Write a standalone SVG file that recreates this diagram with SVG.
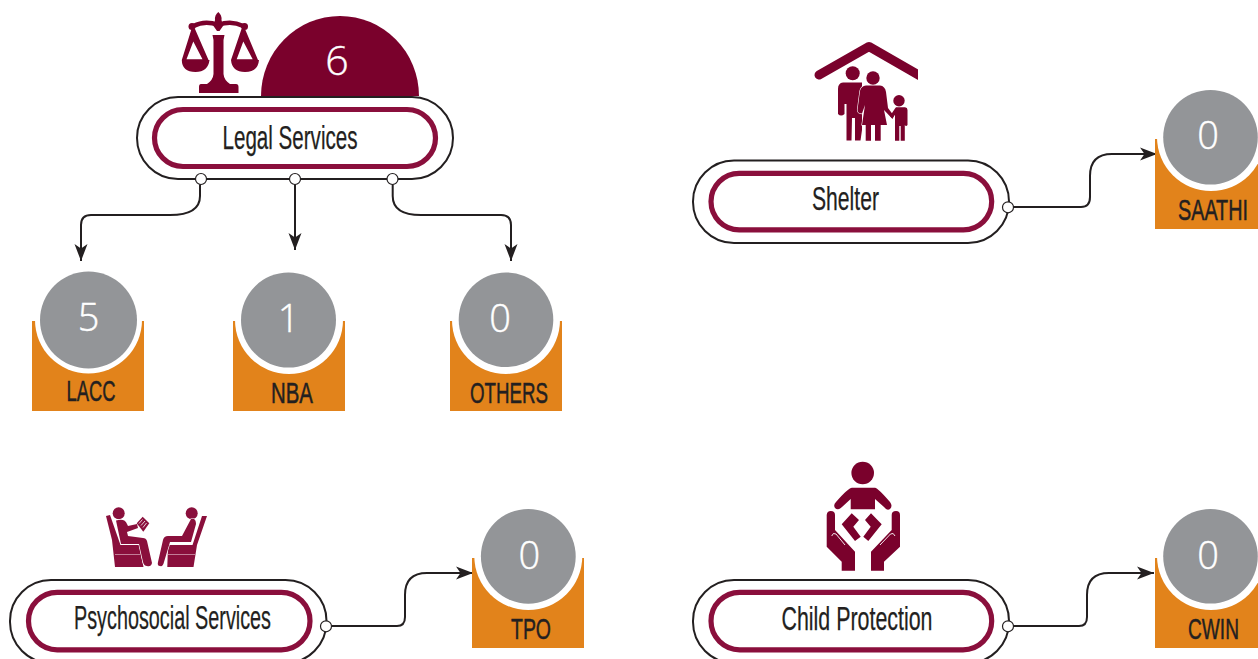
<svg xmlns="http://www.w3.org/2000/svg" width="1258" height="659" viewBox="0 0 1258 659">
<style>
.outer{fill:#fff;stroke:#231f20;stroke-width:2}
.inner{fill:#fff;stroke:#8a0f3c;stroke-width:5.2}
.title{font-family:"Liberation Sans Narrow","Liberation Sans",sans-serif;font-size:33px;fill:#231f20;stroke:#231f20;stroke-width:.25;text-anchor:middle}
.tag{font-family:"Liberation Sans Narrow","Liberation Sans",sans-serif;font-size:30px;fill:#231f20;stroke:#231f20;stroke-width:.5;text-anchor:middle}
.num{font-family:"Open Sans",sans-serif;font-weight:300;font-size:38px;fill:#fff;stroke:#fff;stroke-width:.4;text-anchor:middle}
.box{fill:#e2831b}
.halo{fill:#fff}
.disc{fill:#939598}
.icon{fill:#7a012c}
.soft{fill:#8a0f3c}
.gap{stroke:#fff;stroke-width:1.2;paint-order:stroke}
.conn{fill:none;stroke:#231f20;stroke-width:2;marker-end:url(#arrow)}
.dot{fill:#fff;stroke:#231f20;stroke-width:1.2}
</style>
<defs>
<marker id="arrow" markerUnits="userSpaceOnUse" markerWidth="19" markerHeight="15" refX="17" refY="7" orient="auto">
<path d="M0 0.500L17 7L0 13.500L4.500 7Z" fill="#231f20"/>
</marker>
</defs>
<g id="connectors">
<path class="conn" d="M200 184V196Q200 215 170 215H91Q81 215 81 225V261"/>
<path class="conn" d="M295 184V250"/>
<path class="conn" d="M392.700 184V196Q392.700 215 421 215H501Q511 215 511 225V261"/>
<path class="conn" d="M1013 207H1081Q1090 207 1090 197V176Q1090 154 1112 154H1157"/>
<path class="conn" d="M332 626H397Q405 626 405 617V595Q405 573 427 573H473"/>
<path class="conn" d="M1013 626H1079Q1087 626 1087 617V595Q1087 573 1109 573H1154"/>
</g>
<g id="legal-services">
<path class="icon" d="M261 96A79 80 0 0 1 419 96Z"/>
<text class="num" x="337" y="75" style="font-size:41px">6</text>
<path d="M193.500 26Q205 20 218.300 25Q231 20 243.300 26" fill="none" stroke="#7a012c" stroke-width="4.500"/>
<circle class="icon" cx="192" cy="26.500" r="3.500"/>
<circle class="icon" cx="244.500" cy="26.500" r="3.500"/>
<path class="icon" d="M218.300 12Q222 15 221.500 20L223 26L219.500 31H217L213.500 26L215 20Q214.500 15 218.300 12Z"/>
<path class="icon" d="M212.500 35H224.500L223.500 40V74Q224 80 230 84H236Q238.500 84 238.500 87V93H199V87Q199 84 201 84H207Q213 80 213.500 74V40Z"/>
<path class="icon" fill-rule="evenodd" d="M191.500 29H195L208.500 60H209.500Q208 72 195.500 72Q182 72 181.800 60ZM193.300 41.500L186.500 59.300H202.500Z"/>
<path class="icon" fill-rule="evenodd" d="M241.500 29H245L258 60H259Q258 72 245 72Q232 72 231 60ZM243.300 41.500L236.700 59.300H252.700Z"/>
<rect class="outer" x="137" y="97" width="316" height="82" rx="41"/>
<rect class="inner" x="154.500" y="109.500" width="281" height="57" rx="28.500"/>
<text class="title" x="290" y="149" textLength="135" lengthAdjust="spacingAndGlyphs">Legal Services</text>
<circle class="dot" cx="201" cy="179" r="5.500"/>
<circle class="dot" cx="295" cy="179" r="5.500"/>
<circle class="dot" cx="392.500" cy="179" r="5.500"/>
</g>
<g id="lacc">
<rect class="box" x="32" y="321" width="112" height="90"/>
<circle class="halo" cx="88.500" cy="320" r="53.500"/>
<rect class="halo" x="30" y="300" width="116" height="21"/>
<circle class="disc" cx="88.500" cy="320" r="48.500"/>
<text class="num" x="88.500" y="331">5</text>
<text class="tag" x="91" y="401" textLength="49" lengthAdjust="spacingAndGlyphs">LACC</text>
</g>
<g id="nba">
<rect class="box" x="233" y="321" width="112" height="90"/>
<circle class="halo" cx="289" cy="320" r="54"/>
<rect class="halo" x="231" y="300" width="116" height="21"/>
<circle class="disc" cx="288.500" cy="320" r="47.500"/>
<text class="num" x="288.500" y="332">1</text>
<text class="tag" x="292" y="403" textLength="42" lengthAdjust="spacingAndGlyphs">NBA</text>
</g>
<g id="others">
<rect class="box" x="450" y="321" width="112" height="90"/>
<circle class="halo" cx="506" cy="320" r="54"/>
<rect class="halo" x="448" y="300" width="116" height="21"/>
<circle class="disc" cx="506" cy="319.700" r="47.300"/>
<text class="num" x="500" y="332">0</text>
<text class="tag" x="509" y="403" textLength="78" lengthAdjust="spacingAndGlyphs">OTHERS</text>
</g>
<g id="shelter">
<path d="M819 75L869 46.500L922 77" fill="none" stroke="#7a012c" stroke-width="9" stroke-linecap="round" stroke-linejoin="round"/>
<rect x="918" y="60" width="10" height="25" fill="#fff"/>
<circle class="icon" cx="852.700" cy="73.300" r="7"/>
<path class="icon" d="M843 82.500H862V130L860.500 140.500H855V118H852L851.500 140.500H846.500V104H844.500V114Q841 117 838 114V89Q838 83 843 82.500Z"/>
<path class="icon gap" d="M866 85.500H880Q885 86 886 92L888 108L894 116L892.500 119L884 110L887 125H880.700V140.700H875V125H871V140.700H865.700V125H862L865 105L862 113.500Q858 114 857.500 110L860 91Q861 86 866 85.500Z"/>
<circle class="icon" cx="873" cy="78" r="6.700"/>
<circle class="icon" cx="899" cy="100.700" r="5.700"/>
<path class="icon" d="M896 107.300H905Q907.500 107.500 907.500 110V125Q906 127 904.800 125V117V140.700H900.700V126H899.300V140.700H895V115L892 118L890 116L895 108.500Z"/>
<rect class="outer" x="693" y="160.500" width="316" height="82.500" rx="41"/>
<rect class="inner" x="711" y="173.300" width="280.700" height="56.500" rx="28.200"/>
<text class="title" x="845.500" y="210" textLength="67" lengthAdjust="spacingAndGlyphs">Shelter</text>
<circle class="dot" cx="1008" cy="207.300" r="5.500"/>
</g>
<g id="saathi">
<rect class="box" x="1155" y="139" width="103" height="90"/>
<circle class="halo" cx="1211" cy="137" r="54"/>
<rect class="halo" x="1153" y="120" width="105" height="19"/>
<circle class="disc" cx="1210.500" cy="137.300" r="47.300"/>
<text class="num" x="1208" y="149">0</text>
<text class="tag" x="1213" y="220" textLength="70" lengthAdjust="spacingAndGlyphs">SAATHI</text>
</g>
<g id="psychosocial-services">
<circle class="soft" cx="118.700" cy="513.300" r="6"/>
<circle class="soft" cx="191.700" cy="513.300" r="6"/>
<path class="soft" d="M106 516L110 515L120.500 545H139L143.500 567H115L112 540Z"/>
<path class="soft gap" d="M116 520.500Q125 518 127 524L128 526L137 524L138 528L127 532L128 536L143 538Q146 538 147 541L152 563Q151 567 147 566Q144 566 143 562L139 544H121Z"/>
<path class="soft" d="M136.700 523.300L142.700 516.700L149.300 523.300L143.300 531.700Z"/>
<path d="M139 523.500L142.500 519.500M141 525.500L145 521M143 527.500L146.500 523" stroke="#fff" stroke-width=".8"/>
<path class="soft" d="M207 516L202 516L192.500 545H168L167.300 567H193.500L197 545Z"/>
<path class="soft gap" d="M191 519Q196 518 196 524L191 542H170L164 562Q163 567 160 566Q157 566 158 562L163 540Q164 536 168 536L182 536Z"/>
<path d="M115 554.500H140.500M168 554.500H195" stroke="#c88aa2" stroke-width=".9"/>
<rect class="outer" x="10" y="580" width="316.500" height="83" rx="41"/>
<rect class="inner" x="28.500" y="592.300" width="281.500" height="57.500" rx="28.700"/>
<text class="title" x="172.500" y="629" textLength="197" lengthAdjust="spacingAndGlyphs">Psychosocial Services</text>
<circle class="dot" cx="326" cy="626.300" r="5.500"/>
</g>
<g id="tpo">
<rect class="box" x="472" y="558" width="112" height="90"/>
<circle class="halo" cx="528.300" cy="556" r="54"/>
<rect class="halo" x="470" y="539" width="116" height="19"/>
<circle class="disc" cx="528.300" cy="556.300" r="47.400"/>
<text class="num" x="529.300" y="569">0</text>
<text class="tag" x="531" y="639" textLength="40" lengthAdjust="spacingAndGlyphs">TPO</text>
</g>
<g id="child-protection">
<circle class="icon" cx="862.700" cy="473" r="11.300"/>
<path class="icon" d="M852 487.700H875Q878 488 890 502Q893 506 890 509Q887 511 884 507L875 499V509.300H850.700V499L842 507Q838 511 835 508Q833 505 836 502Q848 488 852 487.700Z"/>
<path class="icon" d="M851.700 513.300L859 520L853.300 526.700L860.700 536.700L855 541L841.700 524.300Z"/>
<path class="icon" d="M871 513.300L865 520L870.700 526.700L863.300 536.700L868.300 541L881.700 524.300Z"/>
<path class="icon" d="M826.700 515Q827 511 830.800 511Q835 511 835 515V530L855 551.700V570.700H841.700V561.700L826.700 546.700Z"/>
<path class="icon" d="M900 515Q900 511 896 511Q891.700 511 891.700 515V530L871 551.700V570.700H884V561.700L900 546.700Z"/>
<path d="M831.700 536Q833 532 836 534L845 545M895 536Q893.500 532 890.500 534L880 545" fill="none" stroke="#fff" stroke-width=".9"/>
<rect class="outer" x="693" y="580" width="316" height="83" rx="41"/>
<rect class="inner" x="711" y="592.300" width="280.700" height="57.500" rx="28.700"/>
<text class="title" x="857" y="630" textLength="151" lengthAdjust="spacingAndGlyphs">Child Protection</text>
<circle class="dot" cx="1008" cy="626.300" r="5.500"/>
</g>
<g id="cwin">
<rect class="box" x="1155" y="558" width="103" height="90"/>
<circle class="halo" cx="1211" cy="556" r="54"/>
<rect class="halo" x="1153" y="539" width="105" height="19"/>
<circle class="disc" cx="1210.500" cy="556.300" r="47.300"/>
<text class="num" x="1208" y="569">0</text>
<text class="tag" x="1213.500" y="639" textLength="51" lengthAdjust="spacingAndGlyphs">CWIN</text>
</g>
</svg>
